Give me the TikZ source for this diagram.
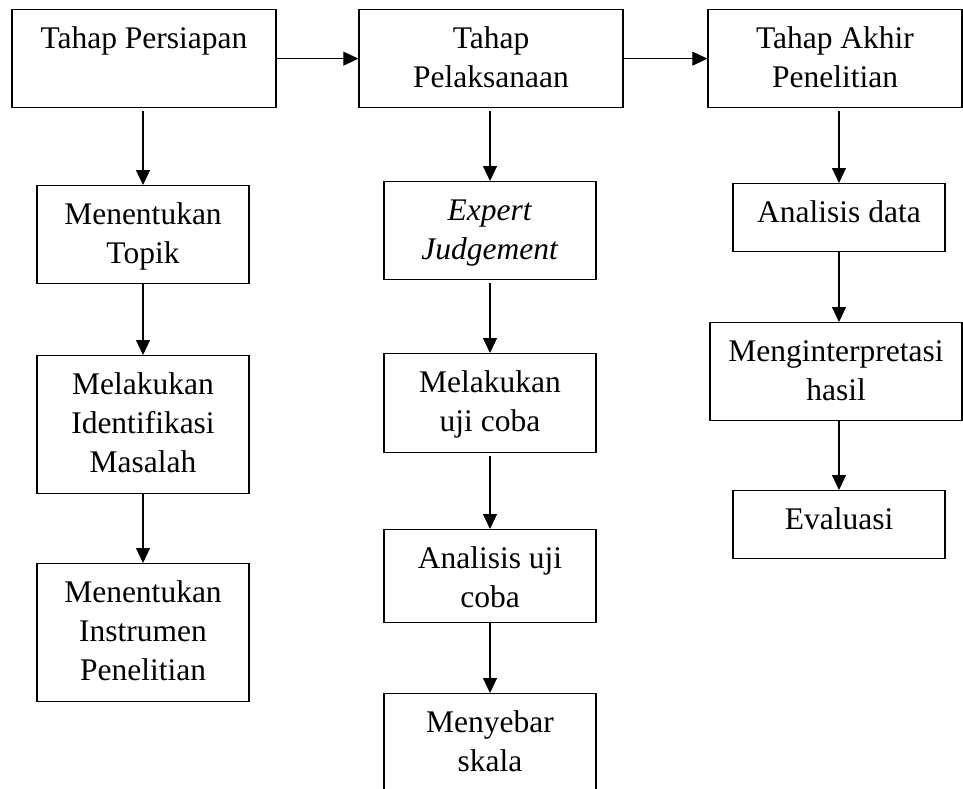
\documentclass[tikz,border=0pt]{standalone}
\usepackage{fontspec}
\setmainfont{Liberation Serif}
\usetikzlibrary{arrows.meta}
\tikzset{
        box/.style={draw, rectangle, line width=1.3pt, inner sep=0pt, align=center, text height=39pt, font=\fontsize{31.5pt}{39pt}\selectfont},
        twolines/.style={text height=78pt},
        threelines/.style={text height=117pt},
        arrowline/.style={line width=1.1pt, -{Triangle[length=15pt, width=14pt]}},
    }

\begin{document}
\begin{tikzpicture}[x=1pt, y=-1pt]

        \useasboundingbox (0,0) rectangle (963,789);

        % Baris atas (tahap)
        \node[box, anchor=north, minimum width=264pt, text depth=59pt] (persiapan) at (144, 9) {Tahap Persiapan};
        \node[box, twolines, anchor=north, minimum width=264pt, text depth=20pt] (pelaksanaan) at (491, 9) {Tahap\\Pelaksanaan};
        \node[box, twolines, anchor=north, minimum width=254pt, text depth=20pt] (akhir) at (835, 9) {Tahap Akhir\\Penelitian};

        % Kolom kiri
        \node[box, twolines, anchor=north, minimum width=212pt, text depth=20pt] (topik) at (143, 185) {Menentukan\\Topik};
        \node[box, threelines, anchor=north, minimum width=212pt, text depth=21pt] (identifikasi) at (143, 355) {Melakukan\\Identifikasi\\Masalah};
        \node[box, threelines, anchor=north, minimum width=212pt, text depth=21pt] (instrumen) at (143, 563) {Menentukan\\Instrumen\\Penelitian};

        % Kolom tengah
        \node[box, twolines, anchor=north, minimum width=212pt, text depth=20pt] (expert) at (490, 181) {\textit{Expert}\\\textit{Judgement}};
        \node[box, twolines, anchor=north, minimum width=212pt, text depth=21pt] (ujicoba) at (490, 353) {Melakukan\\uji coba};
        \node[box, twolines, anchor=north, minimum width=212pt, text depth=15pt] (analisisuji) at (490, 529) {Analisis uji\\coba};
        \node[box, twolines, anchor=north, minimum width=212pt, text depth=111pt] (menyebar) at (490, 693) {Menyebar\\skala};

        % Kolom kanan
        \node[box, anchor=north, minimum width=212pt, text depth=29pt] (analisisdata) at (839, 183) {Analisis data};
        \node[box, twolines, anchor=north, minimum width=252pt, text depth=20pt] (interpretasi) at (836, 322) {Menginterpretasi\\hasil};
        \node[box, anchor=north, minimum width=212pt, text depth=29pt] (evaluasi) at (839, 490) {Evaluasi};

        % Panah antar tahap
        \draw[arrowline] (persiapan.east) -- (persiapan.east -| pelaksanaan.west);
        \draw[arrowline] (pelaksanaan.east) -- (pelaksanaan.east -| akhir.west);

        % Panah ke bawah
        \draw[arrowline, shorten <=3pt] (topik.north |- persiapan.south) -- (topik.north);
        \draw[arrowline] (topik) -- (identifikasi);
        \draw[arrowline] (identifikasi) -- (instrumen);

        \draw[arrowline, shorten <=3pt] (expert.north |- pelaksanaan.south) -- (expert.north);
        \draw[arrowline, shorten <=3pt] (expert) -- (ujicoba);
        \draw[arrowline, shorten <=3pt] (ujicoba) -- (analisisuji);
        \draw[arrowline] (analisisuji) -- (menyebar);

        \draw[arrowline, shorten <=3pt] (analisisdata.north |- akhir.south) -- (analisisdata.north);
        \draw[arrowline] (analisisdata) -- (interpretasi.north -| analisisdata.south);
        \draw[arrowline] (evaluasi.north |- interpretasi.south) -- (evaluasi.north);

    \end{tikzpicture}
\end{document}
